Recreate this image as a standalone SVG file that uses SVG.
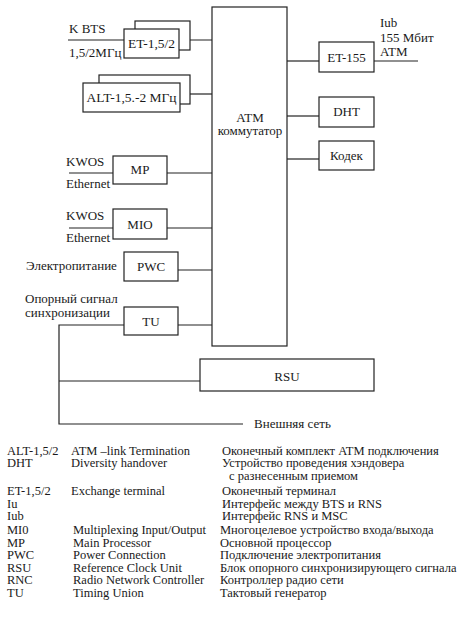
<svg xmlns="http://www.w3.org/2000/svg" width="474" height="620" viewBox="0 0 474 620" font-family="'Liberation Serif', 'Times New Roman', serif">
<style>
  .bx { fill: #fff; stroke: #222; stroke-width: 1.2; }
  .ln { fill: none; stroke: #222; stroke-width: 1.2; }
  text { font-family: "Liberation Serif", "Times New Roman", serif; fill: #1a1a1a; font-size: 13px; }
  .c { text-anchor: middle; }
  .lg text { font-size: 12.5px; }
</style>
<rect width="474" height="620" fill="#fff"/>

<g id="connectors">
  <line class="ln" x1="68" y1="40" x2="124" y2="40"/>
  <line class="ln" x1="179" y1="40" x2="212" y2="40"/>
  <line class="ln" x1="180" y1="94" x2="212" y2="94"/>
  <line class="ln" x1="287" y1="61" x2="319" y2="61"/>
  <line class="ln" x1="374" y1="61" x2="418" y2="61"/>
  <line class="ln" x1="287" y1="116" x2="319" y2="116"/>
  <line class="ln" x1="287" y1="159" x2="319" y2="159"/>
  <line class="ln" x1="69" y1="173" x2="113" y2="173"/>
  <line class="ln" x1="167" y1="173" x2="212" y2="173"/>
  <line class="ln" x1="69" y1="228" x2="113" y2="228"/>
  <line class="ln" x1="167" y1="228" x2="212" y2="228"/>
  <line class="ln" x1="178" y1="270" x2="212" y2="270"/>
  <line class="ln" x1="178" y1="325" x2="212" y2="325"/>
  <polyline class="ln" points="124,325 59,325 59,424 243,424"/>
  <line class="ln" x1="59" y1="381" x2="200" y2="381"/>
</g>

<g id="atm">
  <rect class="bx" x="212" y="7" width="75" height="339"/>
  <text class="c" x="250" y="122">ATM</text>
  <text class="c" x="250" y="135">коммутатор</text>
</g>

<g id="et152">
  <rect class="bx" x="135" y="21" width="55" height="29"/>
  <rect class="bx" x="124" y="29" width="55" height="29"/>
  <text class="c" x="151.5" y="48" style="font-size:13.5px">ET-1,5/2</text>
</g>

<g id="alt">
  <rect class="bx" x="99" y="75" width="91" height="29"/>
  <rect class="bx" x="83" y="83" width="97" height="29"/>
  <text class="c" x="131.5" y="102" style="font-size:13.5px">ALT-1,5.-2 МГц</text>
</g>

<g id="et155">
  <rect class="bx" x="319" y="42" width="55" height="30"/>
  <text class="c" x="346.5" y="62">ET-155</text>
</g>

<g id="dht">
  <rect class="bx" x="319" y="97" width="55" height="30"/>
  <text class="c" x="346.5" y="116">DHT</text>
</g>

<g id="codec">
  <rect class="bx" x="319" y="141" width="55" height="29"/>
  <text class="c" x="346.5" y="160">Кодек</text>
</g>

<g id="mp">
  <rect class="bx" x="113" y="156" width="54" height="28"/>
  <text class="c" x="140" y="174">MP</text>
</g>

<g id="mio">
  <rect class="bx" x="113" y="209" width="54" height="30"/>
  <text class="c" x="140" y="229">MIO</text>
</g>

<g id="pwc">
  <rect class="bx" x="124" y="252" width="54" height="29"/>
  <text class="c" x="151" y="271">PWC</text>
</g>

<g id="tu">
  <rect class="bx" x="124" y="307" width="54" height="28"/>
  <text class="c" x="151" y="326">TU</text>
</g>

<g id="rsu">
  <rect class="bx" x="200" y="359" width="174" height="32"/>
  <text class="c" x="287" y="381">RSU</text>
</g>

<g id="labels">
  <text x="69" y="33">K BTS</text>
  <text x="69" y="57">1,5/2МГц</text>
  <text x="380" y="27">Iub</text>
  <text x="380" y="42">155 Мбит</text>
  <text x="380" y="56">ATM</text>
  <text x="66" y="166">KWOS</text>
  <text x="66" y="188">Ethernet</text>
  <text x="66" y="220">KWOS</text>
  <text x="66" y="242">Ethernet</text>
  <text x="26" y="270">Электропитание</text>
  <text x="25" y="303">Опорный сигнал</text>
  <text x="25" y="317">синхронизации</text>
  <text x="254" y="428">Внешняя сеть</text>
</g>

<g id="legend" class="lg">
  <text x="7" y="455">ALT-1,5/2</text>
  <text x="71" y="455">ATM –link Termination</text>
  <text x="222" y="455">Оконечный  комплект ATM подключения</text>
  <text x="7" y="467">DHT</text>
  <text x="71" y="467">Diversity handover</text>
  <text x="222" y="467">Устройство проведения хэндовера</text>
  <text x="229" y="480">с разнесенным приемом</text>
  <text x="7" y="495">ET-1,5/2</text>
  <text x="71" y="495">Exchange terminal</text>
  <text x="222" y="495">Оконечный терминал</text>
  <text x="7" y="508">Iu</text>
  <text x="222" y="508">Интерфейс между BTS и  RNS</text>
  <text x="7" y="520">Iub</text>
  <text x="222" y="520">Интерфейс RNS  и  MSC</text>
  <text x="7" y="534">MI0</text>
  <text x="73" y="534">Multiplexing Input/Output</text>
  <text x="220" y="534">Многоцелевое устройство входа/выхода</text>
  <text x="7" y="547">MP</text>
  <text x="73" y="547">Main Processor</text>
  <text x="220" y="547">Основной процессор</text>
  <text x="7" y="559">PWC</text>
  <text x="73" y="559">Power Connection</text>
  <text x="220" y="559">Подключение электропитания</text>
  <text x="7" y="572">RSU</text>
  <text x="73" y="572">Reference Clock Unit</text>
  <text x="220" y="572">Блок опорного синхронизирующего сигнала</text>
  <text x="7" y="584">RNC</text>
  <text x="73" y="584">Radio Network Controller</text>
  <text x="220" y="584">Контроллер радио сети</text>
  <text x="7" y="597">TU</text>
  <text x="73" y="597">Timing Union</text>
  <text x="220" y="597">Тактовый генератор</text>
</g>
</svg>
